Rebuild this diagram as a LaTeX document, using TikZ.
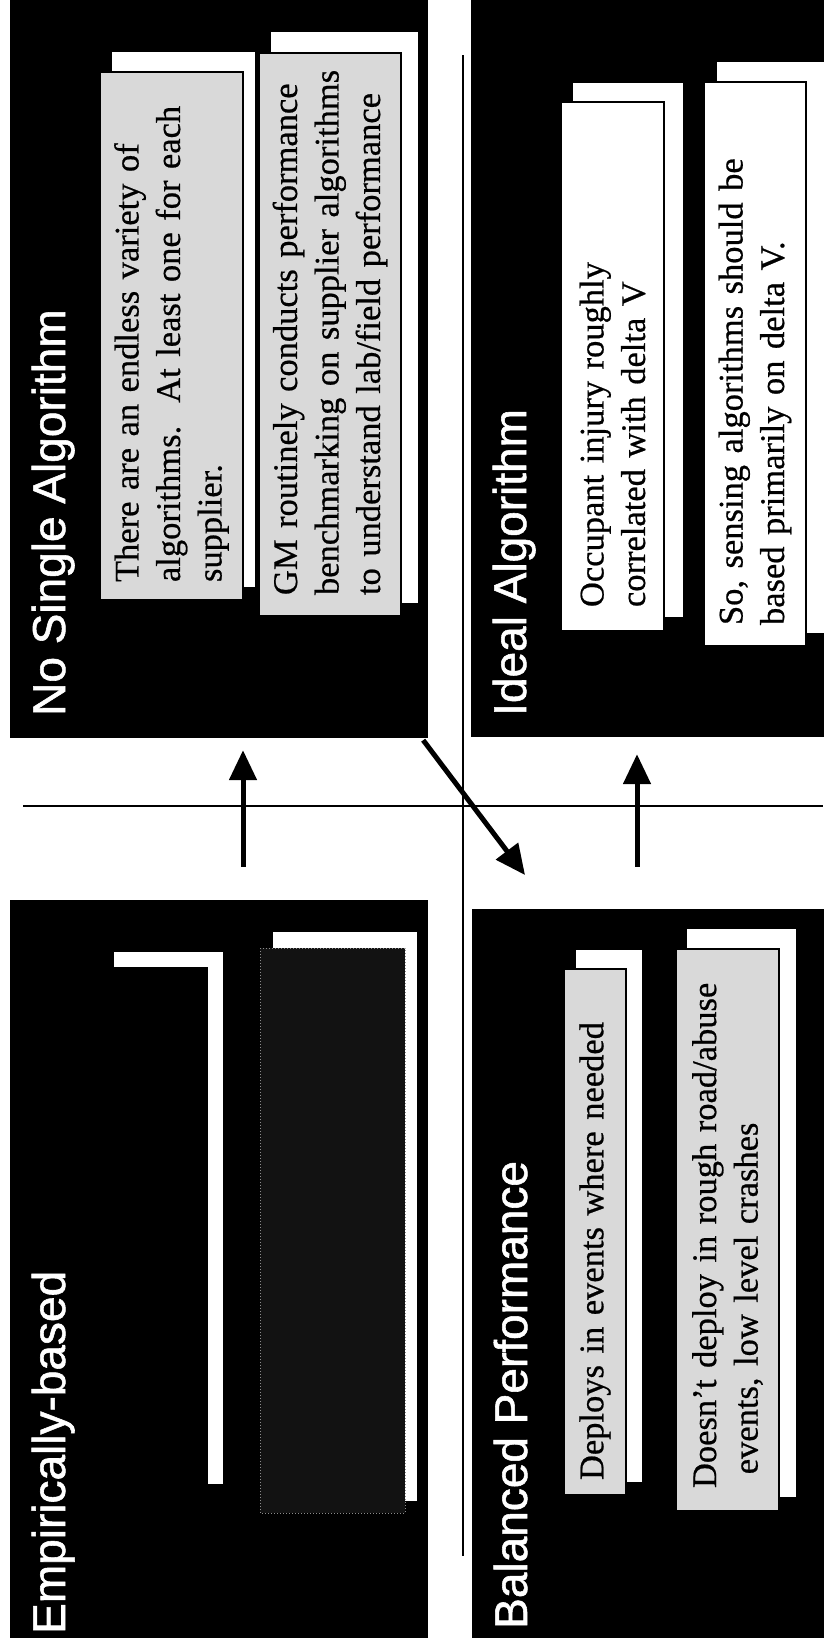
\documentclass[tikz,border=0pt]{standalone}
\usepackage{fontspec}
\usetikzlibrary{arrows.meta}
\newfontfamily\titlefont[FakeBold=1.2]{Liberation Sans}
\newfontfamily\bodyfont[FakeBold=0.6]{Liberation Serif}

\begin{document}
\begin{tikzpicture}[x=1pt,y=-1pt,
  panel/.style={fill=black,draw=none,inner sep=0pt},
  title/.style={rotate=90,anchor=base west,inner sep=0pt,text=white,font=\titlefont\fontsize{46}{50}\selectfont},
  textbox/.style={rotate=90,draw=black,line width=2pt,inner ysep=0pt,align=left,font=\bodyfont\fontsize{34.5}{41.5}\selectfont},
  greybox/.style={textbox,fill=black!15},
  whitebox/.style={textbox,fill=white},
  shade/.style={fill=white},
  rule/.style={line width=1.3pt},
  arr/.style={line width=5pt,-{Triangle[length=30pt,width=27pt]}}]
\useasboundingbox (0,0) rectangle (823,1638);

% cross lines
\coordinate (hl) at (23,806);
\coordinate (hr) at (823,806);
\coordinate (vt) at (463,55);
\coordinate (vb) at (463,1556);
\draw[rule] (hl) -- (hr);
\draw[rule] (vt) -- (vb);

% the four panels
\node[panel,minimum width=418pt,minimum height=740pt] (nsa) at (219,368) {};
\node[panel,minimum width=360pt,minimum height=740pt] (ideal) at (651,367) {};
\node[panel,minimum width=418pt,minimum height=745pt] (emp) at (219,1272.5) {};
\node[panel,minimum width=358pt,minimum height=736pt] (bal) at (651,1277) {};

\node[title] (tnsa) at (65,716) {No Single Algorithm};
\node[title] (tideal) at (526,716) {Ideal Algorithm};
\node[title] (temp) at (65,1634) {Empirically-based};
\node[title] (tbal) at (527,1629) {Balanced Performance};

% No Single Algorithm
\fill[shade] (112,52) rectangle (255,587);
\fill[shade] (271,32) rectangle (418,603);
\node[greybox,minimum width=528pt,minimum height=143pt,inner xsep=18pt,text width=492pt] (nsa1) at (171.5,336)
  {There are an endless variety of\\algorithms.\ \ At least one for each\\supplier.};
\node[greybox,minimum width=563pt,minimum height=142pt,inner xsep=21pt,text width=521pt] (nsa2) at (330,334.5)
  {\mbox{GM routinely conducts performance}\\\mbox{benchmarking on supplier algorithms}\\\mbox{to understand lab/field performance}};

% Ideal Algorithm
\fill[shade] (573,83) rectangle (683,617);
\fill[shade] (717,62) rectangle (835,633);
\node[whitebox,minimum width=529pt,minimum height=103pt,inner xsep=24pt,text width=481pt] (ideal1) at (612.5,366.5)
  {Occupant injury roughly\\correlated with delta V};
\node[whitebox,minimum width=564pt,minimum height=102pt,inner xsep=21pt,text width=522pt] (ideal2) at (755,364)
  {So, sensing algorithms should be\\based primarily on delta V.};

% Empirically-based
\fill[shade] (114,952) rectangle (223,1484);
\fill[shade] (273,932) rectangle (417,1501);
\node[textbox,fill=black,minimum width=529pt,minimum height=105pt] (emp1) at (154.5,1232.5) {};
\node[textbox,fill=black!93,draw=black!45,line width=1pt,dotted,minimum width=565pt,minimum height=145pt] (emp2) at (332.5,1230.5) {};

% Balanced Performance
\fill[shade] (576,950) rectangle (642,1482);
\fill[shade] (687,929) rectangle (796,1497);
\node[greybox,minimum width=526pt,minimum height=62pt,inner xsep=15pt,text width=496pt] (bal1) at (595,1232)
  {Deploys in events where needed};
\node[greybox,minimum width=562pt,minimum height=103pt,inner xsep=23pt,text width=516pt] (bal2) at (727.5,1230)
  {\mbox{Doesn’t deploy in rough road/abuse}\\\hspace*{0.4em}events, low level crashes};

% arrows
\coordinate (upl) at (243,800);
\coordinate (upr) at (637,800);
\coordinate (dtip) at (525,875);
\draw[arr,shorten <=33pt,shorten >=12pt] (emp.north -| upl) -- (nsa.south -| upl);
\draw[arr,shorten <=42pt,shorten >=17pt] (bal.north -| upr) -- (ideal.south -| upr);
\draw[arr] ([xshift=-5pt,yshift=-2pt]nsa.south east) -- (dtip);

\end{tikzpicture}
\end{document}
